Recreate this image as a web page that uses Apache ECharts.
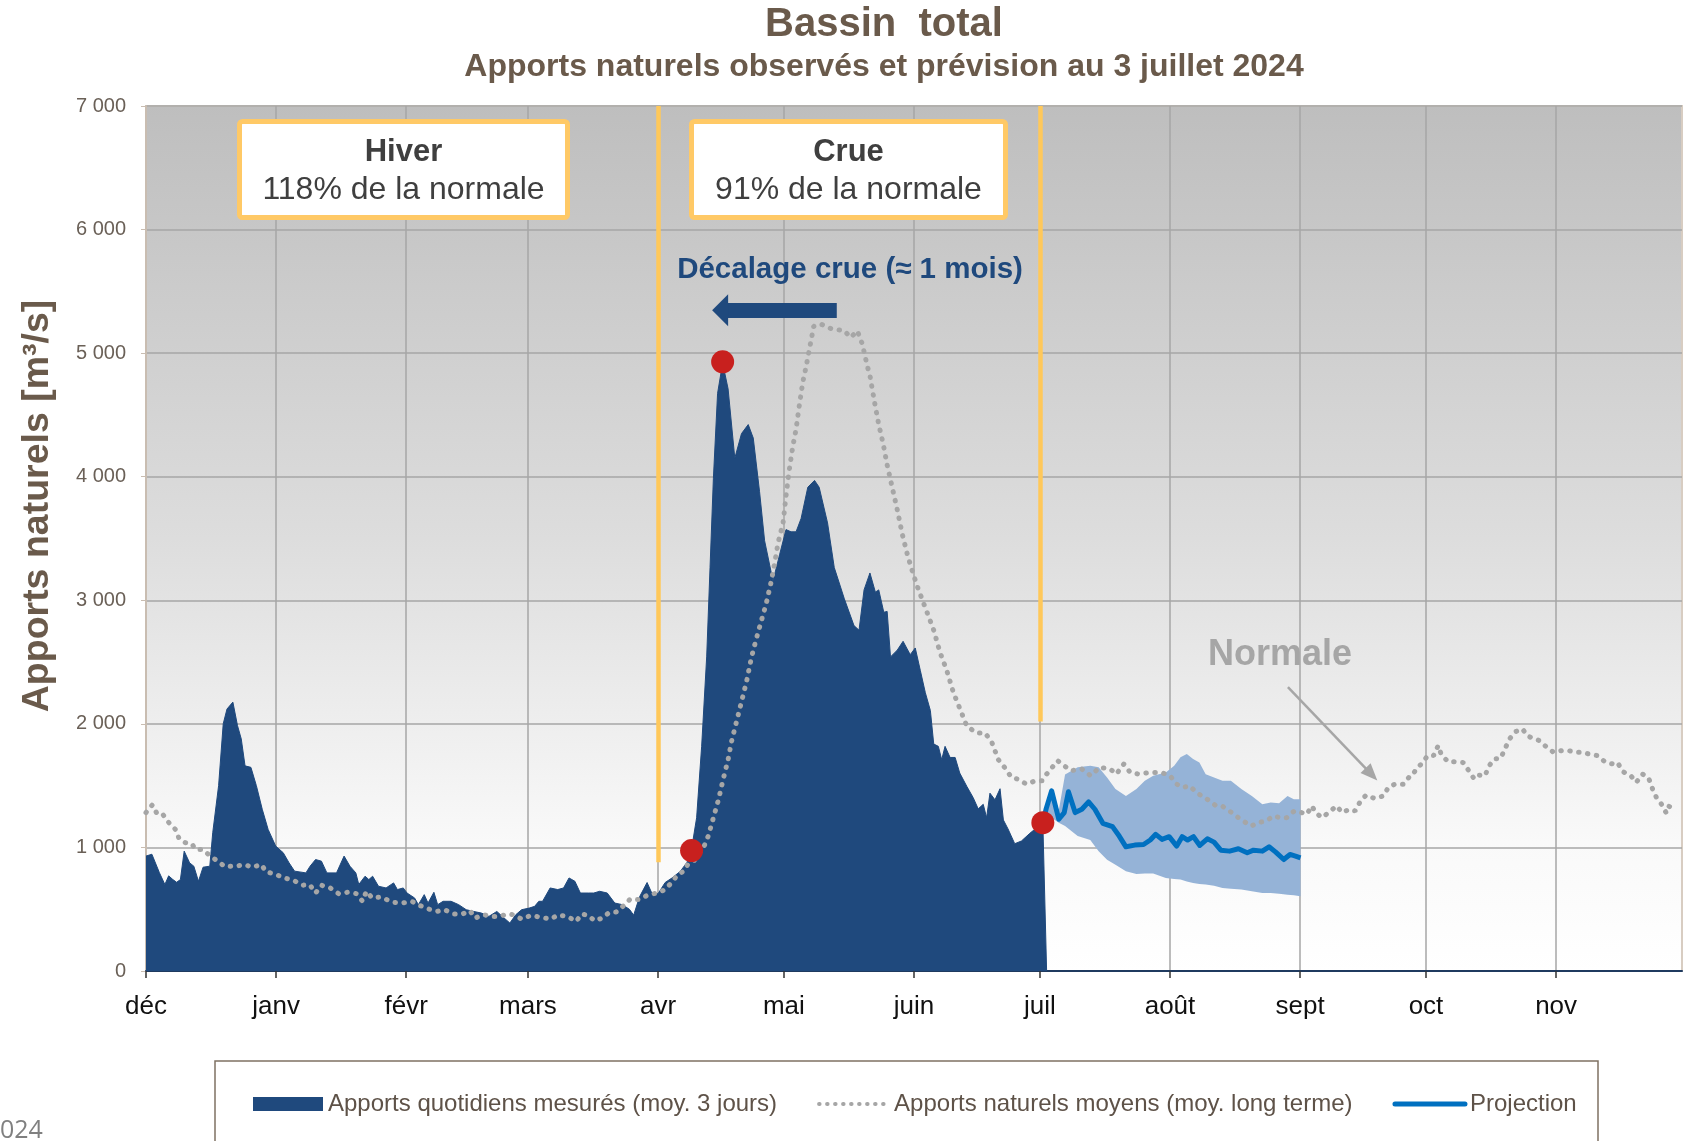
<!DOCTYPE html>
<html>
<head>
<meta charset="utf-8">
<script src="https://cdn.jsdelivr.net/npm/echarts@6/dist/echarts.min.js"></script>
<style>
html, body { margin: 0; padding: 0; background: #fff; }
#Echarts { width: 1693px; height: 1141px; }
</style>
</head>
<body>
<div id="Echarts"></div>
<script>
// axe X : jours depuis le 1er décembre 2023
var months = ['déc', 'janv', 'févr', 'mars', 'avr', 'mai', 'juin', 'juil', 'août', 'sept', 'oct', 'nov'];
var monthStart = [0, 31, 62, 91, 122, 152, 183, 213, 244, 275, 305, 336];

// apports quotidiens mesurés (moy. 3 jours) [jour, m3/s]
var mesure = [
    [0, 930], [1.4, 945], [3.2, 795], [4.5, 700], [5.4, 770], [6.4, 740], [7.3, 718], [8.2, 740],
    [9.1, 970], [10.4, 875], [11.4, 848], [12.5, 726], [13.6, 840], [15.2, 848], [15.9, 1119],
    [17.3, 1500], [18.4, 2000], [19.3, 2120], [20.7, 2176], [21.8, 1986], [22.7, 1878], [23.6, 1660],
    [25, 1648], [26.3, 1500], [27.7, 1309], [29.1, 1146], [30.9, 1011], [32.7, 957], [34.1, 875],
    [35.4, 808], [38.1, 794], [39.1, 848], [40.4, 902], [41.8, 889], [43.1, 794], [45.4, 794],
    [47.2, 930], [48.6, 848], [50, 794], [50.7, 700], [52.2, 767], [53.1, 740], [54, 767],
    [55.4, 686], [57.2, 672], [59, 713], [59.9, 659], [61.3, 672], [62.2, 631], [64, 591],
    [64.9, 537], [66.3, 618], [67.2, 550], [68.6, 637], [69.5, 537], [70.8, 564], [72.7, 564],
    [74.5, 537], [76.3, 496], [78.1, 482], [79.9, 469], [81.7, 442], [83.6, 482], [84.9, 442],
    [86.7, 388], [88.1, 455], [89.5, 496], [91.3, 509], [92.6, 523], [93.6, 564], [94.5, 564],
    [96.3, 672], [98.1, 659], [99.5, 672], [100.8, 753], [102.2, 726], [103.5, 631], [105.4, 631],
    [106.7, 631], [108.1, 645], [109.9, 631], [111.7, 550], [113.5, 537], [115.2, 499], [116.2, 452],
    [117.6, 600], [119.4, 716], [120.6, 625], [122, 625], [123.7, 716], [125.3, 752], [127.3, 806],
    [128.9, 879], [130, 987], [131.2, 1240], [132.4, 1818], [133.6, 2542], [134.4, 3265],
    [135.2, 3988], [136.2, 4675], [137.4, 4920], [138.7, 4711], [140.3, 4150], [141.9, 4349],
    [143.5, 4422], [144.7, 4313], [146.2, 3879], [147.4, 3482], [149.4, 3156], [151, 3373],
    [152.5, 3572], [153.7, 3554], [154.9, 3554], [156.1, 3662], [157.7, 3915], [159.3, 3970],
    [160.4, 3915], [162.4, 3626], [164, 3265], [166.4, 3012], [168.7, 2795], [169.9, 2758],
    [171.1, 3084], [172.5, 3221], [173.8, 3066], [174.6, 3084], [175.8, 2903], [176.6, 2910],
    [177.4, 2542], [179, 2596], [180.4, 2668], [182.1, 2560], [183.3, 2614], [184.5, 2433],
    [185.7, 2252], [186.9, 2108], [187.7, 1837], [188.8, 1818], [189.6, 1710], [190.4, 1818],
    [191.6, 1728], [192.8, 1728], [193.9, 1602], [195.6, 1493], [197.1, 1403], [198.3, 1312],
    [199.5, 1349], [200.3, 1240], [201.1, 1439], [202.3, 1385], [203.5, 1475], [204.3, 1222],
    [205.4, 1150], [207, 1030], [208.6, 1052], [210.6, 1114], [213.7, 1200], [214.6, 0]
];

// apports naturels moyens (moy. long terme)
var normale = [
    [0, 1282], [1.5, 1344], [2.7, 1268], [4, 1268], [5.3, 1206], [7, 1146], [7.9, 1070], [9.4, 1038],
    [10.9, 1030], [11.8, 984], [13.4, 984], [15.2, 935], [17.3, 883], [18.9, 843], [20.4, 848],
    [21.6, 848], [23.3, 862], [25.4, 840], [27.5, 862], [28.6, 802], [30.7, 786], [32.9, 753],
    [35.2, 734], [37.2, 694], [39, 699], [40.4, 631], [41.8, 694], [43.9, 672], [45.9, 626],
    [48, 637], [50.1, 626], [51.6, 564], [52.5, 645], [53.9, 591], [55.9, 599], [57, 583],
    [58.9, 556], [61.1, 550], [63.3, 564], [65.4, 528], [67.4, 501], [69.3, 482], [71.1, 496],
    [73.4, 461], [75.4, 461], [77.2, 488], [78.4, 428], [80.4, 455], [82.7, 442], [84.3, 442],
    [86.3, 463], [87.5, 455], [89.5, 420], [91.7, 450], [94.2, 434], [96.5, 420], [98.1, 453],
    [100.4, 442], [102.5, 401], [103.8, 461], [105.4, 450], [106.9, 406], [108.7, 428],
    [110.4, 474], [112, 477], [113.8, 528], [115.4, 583], [117.6, 577], [119.7, 618], [121.9, 631],
    [123.7, 659], [125.3, 718], [126.7, 780], [128.1, 808], [129.1, 862], [130.5, 889], [133, 1011],
    [134, 1095], [135.2, 1240], [136.4, 1385], [137.5, 1547], [138.7, 1710], [139.5, 1855],
    [140.7, 2017], [141.9, 2180], [143.1, 2343], [144.3, 2542], [145.4, 2686], [146.6, 2831],
    [147.8, 2975], [149, 3156], [149.8, 3301], [150.6, 3464], [151.8, 3626], [152.5, 3843],
    [153.3, 4060], [154.1, 4241], [154.9, 4385], [155.7, 4584], [156.5, 4765], [157.3, 4892],
    [158.1, 5036], [159.1, 5217], [160.8, 5235], [163.2, 5199], [166.4, 5181], [167.9, 5127],
    [169.5, 5181], [170.7, 5072], [171.9, 4892], [172.5, 4819], [173.6, 4602], [174.6, 4422],
    [175.7, 4259], [176.6, 4096], [177.8, 3915], [179, 3735], [180.2, 3536], [181.4, 3373],
    [182.5, 3247], [183.7, 3120], [185.7, 2939], [187.7, 2758], [189.2, 2578], [190.8, 2433],
    [192.4, 2252], [193.9, 2126], [195.6, 1981], [197.9, 1927], [199.9, 1927], [201.5, 1855],
    [203.1, 1710], [204.9, 1634], [206.2, 1566], [207.7, 1553], [209.8, 1512], [211.9, 1539],
    [213.5, 1539], [214.6, 1593], [215.6, 1634], [217.2, 1702], [218.8, 1661], [220.4, 1621],
    [223, 1634], [225.1, 1580], [227.2, 1648], [229.8, 1634], [231.2, 1593], [233, 1675],
    [234.5, 1607], [236.6, 1593], [239.3, 1607], [241.9, 1607], [244, 1580], [245.6, 1512],
    [247.1, 1485], [248.7, 1499], [250.3, 1444], [251.6, 1417], [253.4, 1377], [255, 1336],
    [256.6, 1331], [258.7, 1282], [260.3, 1241], [261.8, 1206], [263.4, 1173], [265, 1201],
    [266.9, 1214], [268.7, 1255], [270.2, 1241], [271.8, 1241], [273.6, 1295], [275.3, 1282],
    [276.6, 1268], [277.8, 1336], [278.7, 1282], [280.2, 1241], [281.8, 1282], [283.7, 1336],
    [285, 1282], [286.8, 1309], [288.1, 1295], [289.2, 1363], [290.7, 1423], [292.8, 1396],
    [294.9, 1417], [296, 1485], [297.6, 1512], [299.7, 1512], [300.9, 1566], [301.8, 1580],
    [302.6, 1634], [303.9, 1675], [305.4, 1743], [306.8, 1743], [307.9, 1824], [308.6, 1756],
    [310.2, 1694], [311.7, 1694], [313.8, 1688], [315.2, 1621], [316.5, 1553], [317.7, 1585],
    [319.1, 1580], [319.8, 1648], [321.2, 1715], [322.8, 1721], [323.8, 1797], [324.9, 1878],
    [326.4, 1938], [328, 1959], [329.1, 1905], [330.4, 1883], [332, 1865], [333.8, 1810],
    [335.4, 1770], [337.3, 1783], [339, 1783], [340.6, 1770], [342.2, 1770], [343.8, 1756],
    [345.9, 1743], [347.8, 1688], [349.6, 1675], [350.6, 1688], [352, 1612], [353.8, 1580],
    [355.1, 1526], [356.6, 1593], [358, 1566], [359, 1472], [359.9, 1404], [361.1, 1350],
    [362.2, 1282], [362.7, 1336], [363.5, 1322]
];

// projection (médiane) et fourchette
var projection = [
    [213.7, 1200], [214.5, 1314], [215.8, 1458], [217.5, 1228], [218.8, 1282], [219.8, 1450],
    [221.4, 1282], [223, 1309], [224.6, 1369], [226.1, 1309], [228, 1195], [230.3, 1168],
    [231.9, 1092], [233.5, 1005], [235.6, 1019], [237.7, 1024], [239.3, 1060], [240.6, 1106],
    [242.1, 1065], [243.8, 1087], [245.6, 1011], [246.9, 1087], [248.2, 1060], [249.6, 1087],
    [251.1, 1016], [252.9, 1070], [254.5, 1043], [256.1, 978], [258.2, 970], [260.3, 989],
    [262.4, 957], [263.9, 978], [266, 970], [267.6, 1005], [269.2, 962], [271.1, 902],
    [272.6, 943], [273.9, 930], [275.1, 916]
];
var bandDays = [213.7, 215.8, 217.5, 219, 222, 225, 227, 229, 231, 233.5, 236, 238, 240, 243, 245,
    246.5, 248, 249.5, 251, 252.5, 254.5, 256.5, 258.5, 261, 263.5, 266, 268, 270, 272, 273.5, 275.1];
var bandHigh = [1230, 1480, 1300, 1590, 1648, 1661, 1648, 1566, 1472, 1417, 1472, 1539, 1580, 1607, 1661,
    1729, 1756, 1715, 1688, 1593, 1566, 1539, 1539, 1472, 1417, 1350, 1363, 1358, 1417, 1390, 1390];
var bandLow = [1190, 1240, 1200, 1173, 1092, 1060, 970, 900, 860, 808, 785, 790, 789, 753, 745,
    740, 725, 713, 705, 699, 690, 672, 665, 659, 645, 631, 631, 625, 618, 612, 604];

// points remarquables
var pointsRouges = [[130, 975], [137.4, 4930], [213.7, 1200]];

var FONT = '"Liberation Sans", Arial, sans-serif';
var BRUN = '#6a5a4b';

var chartDom = document.getElementById('Echarts');
var myChart = echarts.init(chartDom, null, { width: 1693, height: 1141 });

// polygone de la fourchette : bord haut puis bord bas à rebours
function renderBand(params, api) {
    var pts = [];
    for (var i = 0; i < bandDays.length; i++) {
        pts.push(api.coord([bandDays[i], bandHigh[i]]));
    }
    for (var j = bandDays.length - 1; j >= 0; j--) {
        pts.push(api.coord([bandDays[j], bandLow[j]]));
    }
    return {
        type: 'polygon',
        shape: { points: pts },
        style: { fill: '#95b3d7' }
    };
}

var option = {
    animation: false,
    backgroundColor: '#ffffff',
    textStyle: { fontFamily: FONT },
    grid: {
        left: 146, right: 11, top: 106, bottom: 170,
        show: true,
        borderWidth: 2,
        borderColor: '#d8cdc2',
        backgroundColor: {
            type: 'linear', x: 0, y: 0, x2: 0, y2: 1,
            colorStops: [
                { offset: 0, color: '#bebebe' },
                { offset: 0.5, color: '#dddddd' },
                { offset: 0.85, color: '#f9f9f9' },
                { offset: 1, color: '#ffffff' }
            ]
        }
    },
    xAxis: {
        type: 'value',
        min: 0,
        max: 366,
        axisLine: { show: true, lineStyle: { color: '#1f3a5f', width: 2 } },
        axisTick: { show: true, length: 7, customValues: monthStart, lineStyle: { color: '#333', width: 1.5 } },
        axisLabel: {
            customValues: monthStart,
            margin: 23,
            fontSize: 26,
            color: '#111',
            fontFamily: FONT,
            formatter: function (v) {
                var i = monthStart.indexOf(Math.round(v));
                return i >= 0 ? months[i] : '';
            }
        },
        splitLine: { show: true, lineStyle: { color: '#a6a6a6', width: 1.5 } }
    },
    yAxis: {
        type: 'value',
        min: 0,
        max: 7000,
        interval: 1000,
        axisLine: { show: true, lineStyle: { color: '#c9bdb1', width: 2 } },
        axisTick: { show: true, length: 5, lineStyle: { color: '#c9bdb1' } },
        axisLabel: {
            margin: 20,
            fontSize: 20,
            color: '#6a6057',
            fontFamily: FONT,
            formatter: function (v) { return v === 0 ? '0' : (v / 1000) + ' 000'; }
        },
        splitLine: { show: true, lineStyle: { color: '#a6a6a6', width: 1.5 } }
    },
    legend: {
        left: 248,
        top: 1087,
        itemWidth: 70,
        itemHeight: 14,
        itemGap: 40,
        textStyle: { fontSize: 24, color: '#5e5248', fontFamily: FONT },
        data: [
            { name: 'Apports quotidiens mesurés (moy. 3 jours)', icon: 'rect', itemStyle: { color: '#1f497d' } },
            {
                name: 'Apports naturels moyens (moy. long terme)',
                itemStyle: { opacity: 0 },
                lineStyle: { color: '#a6a6a6', width: 4, type: [0.5, 7.5], cap: 'round' }
            },
            {
                name: 'Projection',
                itemStyle: { opacity: 0 },
                lineStyle: { color: '#0070c0', width: 5, cap: 'round' }
            }
        ]
    },
    series: [
        {
            name: 'Apports quotidiens mesurés (moy. 3 jours)',
            type: 'line',
            data: mesure,
            symbol: 'none',
            color: '#1f497d',
            lineStyle: { color: '#1f497d', width: 1 },
            areaStyle: { color: '#1f497d', opacity: 1 },
            z: 2
        },
        {
            name: 'fourchette',
            type: 'custom',
            data: [[bandDays[0], bandLow[0]]],
            renderItem: renderBand,
            silent: true,
            z: 3
        },
        {
            name: 'Projection',
            type: 'line',
            data: projection,
            symbol: 'none',
            color: '#0070c0',
            lineStyle: { color: '#0070c0', width: 5, join: 'round' },
            z: 4,
            markLine: {
                silent: true,
                label: { show: false },
                symbol: ['none', 'triangle'],
                symbolSize: [32, 16],
                lineStyle: { color: '#1f497d', width: 15, type: 'solid' },
                data: [[{ coord: [164.6, 5348] }, { coord: [136.8, 5348] }]]
            }
        },
        {
            name: 'Apports naturels moyens (moy. long terme)',
            type: 'line',
            data: normale,
            symbol: 'none',
            color: '#a6a6a6',
            lineStyle: { color: '#a6a6a6', width: 5, type: [0.5, 8.5], cap: 'round' },
            z: 5,
            markLine: {
                silent: true,
                label: { show: false },
                symbol: ['none', 'triangle'],
                symbolSize: [14, 17],
                lineStyle: { color: '#a6a6a6', width: 2.5, type: 'solid' },
                data: [[{ coord: [272.1, 2298] }, { coord: [292.0, 1592] }]]
            }
        },
        {
            name: 'points',
            type: 'scatter',
            data: pointsRouges,
            symbolSize: 23,
            itemStyle: { color: '#c8201e', opacity: 1 },
            z: 7,
            markLine: {
                silent: true,
                label: { show: false },
                symbol: ['none', 'none'],
                lineStyle: { color: '#ffc85a', width: 4.5, type: 'solid' },
                data: [
                    [{ coord: [122, 880] }, { coord: [122, 7000] }],
                    [{ coord: [213, 2020] }, { coord: [213, 7000] }]
                ]
            }
        }
    ],
    graphic: [
        { type: 'text', x: 884, y: 25, style: { text: 'Bassin  total', fontSize: 40, fontWeight: 'bold', fontFamily: FONT, fill: BRUN, align: 'center', verticalAlign: 'middle' } },
        { type: 'text', x: 884, y: 67, style: { text: 'Apports naturels observés et prévision au 3 juillet 2024', fontSize: 32, fontWeight: 'bold', fontFamily: FONT, fill: BRUN, align: 'center', verticalAlign: 'middle' } },
        { type: 'text', x: 38, y: 506, rotation: Math.PI / 2, style: { text: 'Apports naturels [m³/s]', fontSize: 37.5, fontWeight: 'bold', fontFamily: FONT, fill: BRUN, align: 'center', verticalAlign: 'middle' } },
        // encadrés
        { type: 'rect', z: 10, shape: { x: 239.5, y: 121.5, width: 328, height: 96, r: 3 }, style: { fill: '#ffffff', stroke: '#ffc966', lineWidth: 5 } },
        { type: 'text', z: 11, x: 403.5, y: 152, style: { text: 'Hiver', fontSize: 31, fontWeight: 'bold', fontFamily: FONT, fill: '#3f3f3f', align: 'center', verticalAlign: 'middle' } },
        { type: 'text', z: 11, x: 403.5, y: 190, style: { text: '118% de la normale', fontSize: 32, fontFamily: FONT, fill: '#3f3f3f', align: 'center', verticalAlign: 'middle' } },
        { type: 'rect', z: 10, shape: { x: 691.5, y: 121.5, width: 314, height: 96, r: 3 }, style: { fill: '#ffffff', stroke: '#ffc966', lineWidth: 5 } },
        { type: 'text', z: 11, x: 848.5, y: 152, style: { text: 'Crue', fontSize: 31, fontWeight: 'bold', fontFamily: FONT, fill: '#3f3f3f', align: 'center', verticalAlign: 'middle' } },
        { type: 'text', z: 11, x: 848.5, y: 190, style: { text: '91% de la normale', fontSize: 32, fontFamily: FONT, fill: '#3f3f3f', align: 'center', verticalAlign: 'middle' } },
        { type: 'text', z: 11, x: 850, y: 270, style: { text: 'Décalage crue (≈ 1 mois)', fontSize: 29.5, fontWeight: 'bold', fontFamily: FONT, fill: '#1f497d', align: 'center', verticalAlign: 'middle' } },
        { type: 'text', z: 11, x: 1280, y: 655, style: { text: 'Normale', fontSize: 36, fontWeight: 'bold', fontFamily: FONT, fill: '#a6a6a6', align: 'center', verticalAlign: 'middle' } },
        // cadre de la légende
        { type: 'rect', z: 1, shape: { x: 215, y: 1061, width: 1383, height: 120 }, style: { fill: 'transparent', stroke: '#7f7163', lineWidth: 1.5 } },
        { type: 'text', x: 0, y: 1131, style: { text: '024', fontSize: 25, fontFamily: '"Open Sans", sans-serif', fill: '#808080', align: 'left', verticalAlign: 'middle' } }
    ]
};

myChart.setOption(option);
</script>
</body>
</html>
